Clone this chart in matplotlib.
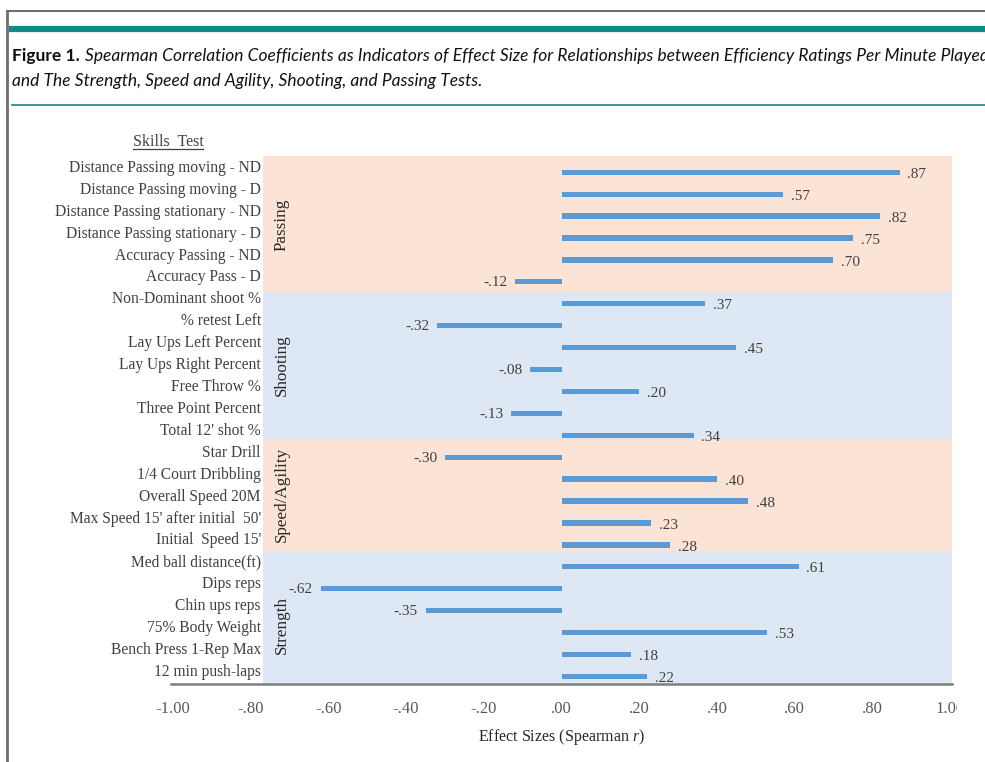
import matplotlib
matplotlib.use("Agg")
import matplotlib.pyplot as plt
from matplotlib.lines import Line2D
from matplotlib.transforms import Bbox

# data
skills = ["Distance Passing moving - ND", "Distance Passing moving - D",
          "Distance Passing stationary - ND", "Distance Passing stationary - D",
          "Accuracy Passing - ND", "Accuracy Pass - D",
          "Non-Dominant shoot %", "% retest Left", "Lay Ups Left Percent",
          "Lay Ups Right Percent", "Free Throw %", "Three Point Percent",
          "Total 12' shot %",
          "Star Drill", "1/4 Court Dribbling", "Overall Speed 20M",
          "Max Speed 15' after initial  50'", "Initial  Speed 15'",
          "Med ball distance(ft)", "Dips reps", "Chin ups reps",
          "75% Body Weight", "Bench Press 1-Rep Max", "12 min push-laps"]
passing = [0.87, 0.57, 0.82, 0.75, 0.70, -0.12]
shooting = [0.37, -0.32, 0.45, -0.08, 0.20, -0.13, 0.34]
speed = [-0.30, 0.40, 0.48, 0.23, 0.28]
strength = [0.61, -0.62, -0.35, 0.53, 0.18, 0.22]
values = passing + shooting + speed + strength

groups = ["Passing", "Shooting", "Speed/Agility", "Strength"]
group_bounds = [(-0.74, 5.45), (5.45, 12.22), (12.22, 17.27), (17.27, 23.36)]
group_mid = [2.4, 8.8, 14.7, 20.65]
group_colors = ["#fbe4d6", "#dde8f4", "#fbe4d6", "#dde8f4"]

xticks = [-1.0, -0.8, -0.6, -0.4, -0.2, 0.0, 0.2, 0.4, 0.6, 0.8, 1.0]


def fmt(v):
    s = "%.2f" % v
    return s.replace("0.", ".", 1)


plt.rcParams['font.family'] = ['Liberation Serif']
plt.rcParams['mathtext.fontset'] = 'custom'
plt.rcParams['mathtext.rm'] = 'Liberation Serif'
plt.rcParams['mathtext.it'] = 'Liberation Serif:italic'

W, H = 985, 762
fig = plt.figure(figsize=(W / 100, H / 100), dpi=100)
ax = fig.add_axes([171 / W, (H - 684.3) / H, 781 / W, 528.3 / H])

rows = list(range(len(skills)))
ax.set_xlim(-1.005, 1.005)
ax.set_ylim(23.36, -0.74)

# group shading
for (y0, y1), c in zip(group_bounds, group_colors):
    ax.axhspan(y0, y1, xmin=0.118, xmax=1.0, color=c, lw=0, zorder=0)

ax.barh(rows, values, height=0.24, color="#5b9bd5", zorder=2)

# value labels
for y, v in zip(rows, values):
    if v >= 0:
        ax.text(v + 0.02, y + 0.1, fmt(v), ha="left", va="center",
                fontsize=11, color="#404040")
    else:
        ax.text(v - 0.02, y + 0.05, fmt(v), ha="right", va="center",
                fontsize=11, color="#404040")

# category labels
for y, s in zip(rows, skills):
    ax.text(-0.774, y - 0.2, s, ha="right", va="center", fontsize=11.2,
            color="#404040", clip_on=False)

for g, m in zip(groups, group_mid):
    ax.text(-0.72, m, g, rotation=90, ha="center", va="center",
            fontsize=12.3, color="#262626")

hdr = ax.text(-1.013, -1.4, "Skills  Test", ha="center", va="center",
              fontsize=11.5, color="#404040", clip_on=False)

for sp in ["top", "right", "left"]:
    ax.spines[sp].set_visible(False)
ax.spines["bottom"].set_color("#7f7f7f")
ax.spines["bottom"].set_linewidth(1.8)
ax.set_yticks([])
ax.set_xticks(xticks)
ax.set_xticklabels([fmt(t) for t in xticks], fontsize=12, color="#595959")
ax.tick_params(axis="x", length=0, pad=12)
ax.set_xlabel("Effect Sizes (Spearman $r$)", fontsize=11.5, color="#262626",
              labelpad=7)

# page frame and caption
fig.add_artist(Line2D([7 / W, 7 / W], [0, 1 - 10.5 / H], color="#6e6e6e", lw=2))
fig.add_artist(Line2D([7 / W, 1], [1 - 10.5 / H, 1 - 10.5 / H], color="#6e6e6e", lw=1.5))
fig.add_artist(Line2D([12 / W, 1], [1 - 29 / H, 1 - 29 / H], color="#14898b", lw=4.5))
fig.add_artist(Line2D([12 / W, 1], [1 - 104.5 / H, 1 - 104.5 / H], color="#14898b", lw=1.2))

t1 = fig.text(12 / W, 1 - 56 / H, "Figure 1.", fontsize=12.5, fontweight="bold",
              family="Lato", ha="left", va="center", color="#111111")
fig.canvas.draw()
r = fig.canvas.get_renderer()
bb = t1.get_window_extent(r)
fig.text((bb.x1 + 5) / W, 1 - 56 / H,
         "Spearman Correlation Coefficients as Indicators of Effect Size for "
         "Relationships between Efficiency Ratings Per Minute Played",
         fontsize=12.5, style="italic", family="Lato", ha="left", va="center",
         color="#111111")
fig.text(12 / W, 1 - 81 / H,
         "and The Strength, Speed and Agility, Shooting, and Passing Tests.",
         fontsize=12.5, style="italic", family="Lato", ha="left", va="center",
         color="#111111")

# underline the header
hb = hdr.get_window_extent(r)
fig.add_artist(Line2D([hb.x0 / W, hb.x1 / W], [(hb.y0 + 1) / H, (hb.y0 + 1) / H],
                      color="#404040", lw=0.9))

# chart picture is cut at the right edge
last = ax.get_xticklabels()[-1]
last.set_clip_box(Bbox.from_extents(0, 0, 957, H))
last.set_clip_on(True)

fig.savefig("out.png", dpi=100)
